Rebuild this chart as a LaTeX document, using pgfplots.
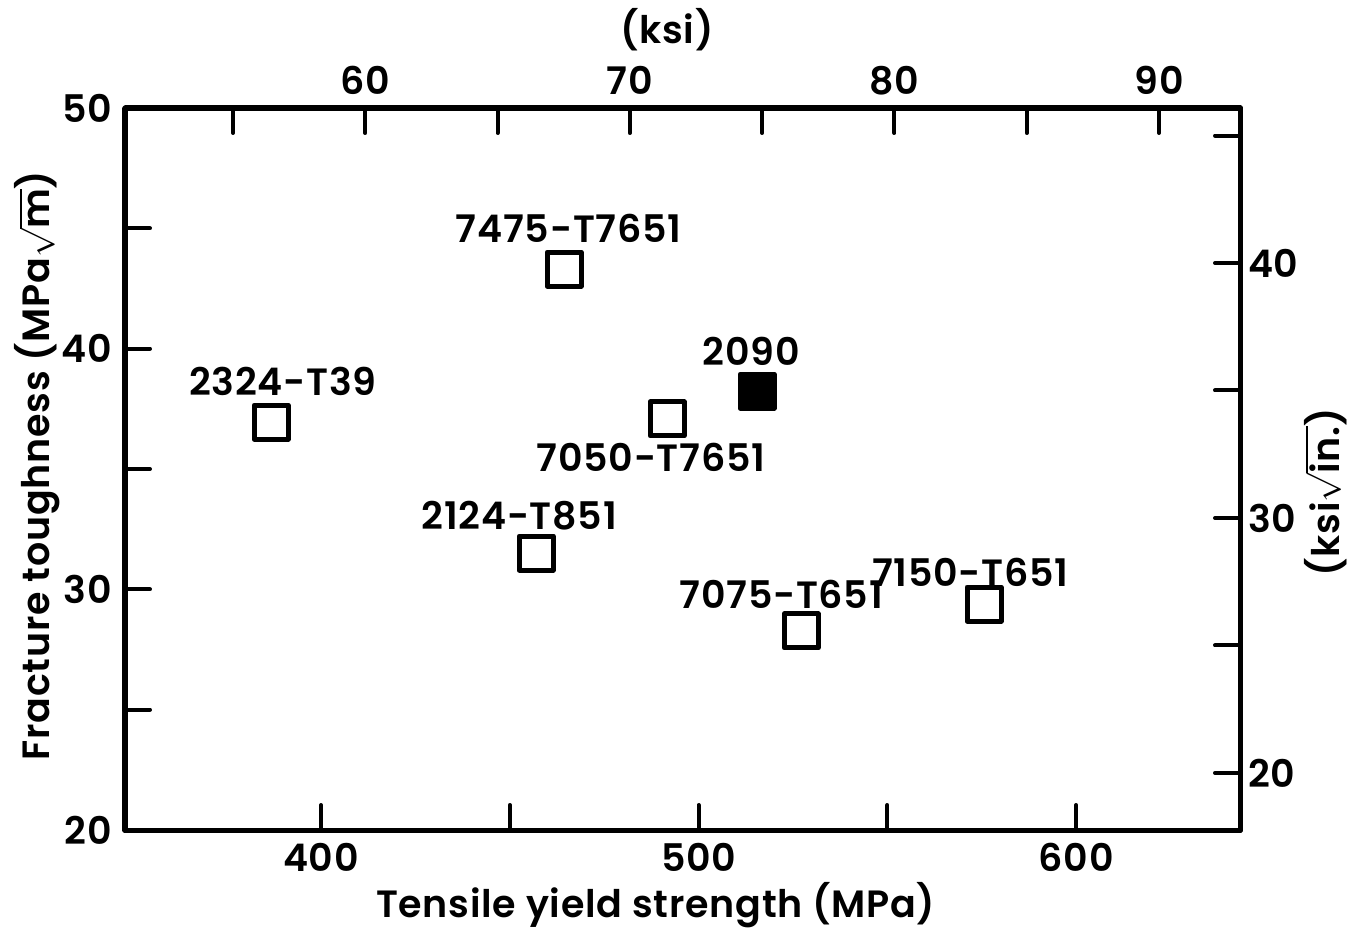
\documentclass[border=0pt]{standalone}
\usepackage{fontspec}
\setmainfont{Poppins SemiBold}[LetterSpace=2]
\usepackage{pgfplots}
\pgfplotsset{compat=1.18}
\begin{document}
\fontsize{19}{21}\selectfont
\begin{tikzpicture}
\useasboundingbox (-62.5pt,-49pt) rectangle (614pt,415pt);
\pgfplotsset{
  common/.style={
    at={(0,0)}, anchor=south west, scale only axis,
    width=557.5pt, height=361pt,
    axis line style={line width=2.5pt, line cap=round, line join=round},
    tick align=inside, major tick length=12.5pt,
    tick style={line width=2pt, black, line cap=round},
    font=\fontsize{19}{21}\selectfont,
    /pgf/number format/assume math mode=true,
    clip=false,
  }
}
\begin{axis}[common,
  xmin=348.1, xmax=643.4, ymin=20, ymax=50,
  xtick={400,450,...,600}, xticklabels={400,,500,,600},
  ytick={20,25,...,50}, yticklabels={20,,30,,40,,50},
  xtick pos=left, ytick pos=left,
  xlabel={Tensile yield strength (MPa)},
  ylabel={Fracture toughness (MPa$\sqrt{\mbox{m}}$)},
  xlabel style={at={(axis description cs:0.476,-0.1039)}, anchor=center},
  ylabel style={at={(axis description cs:-0.0790,0.505)}, anchor=center, inner sep=0pt},
]
\addplot[only marks, mark=square, mark size=8.5pt, line width=2.5pt,
  mark options={line join=round}] coordinates {
  (386.8,36.95) (464.4,43.31) (491.7,37.08) (457.0,31.51) (527.2,28.27) (575.6,29.39)
};
\addplot[only marks, mark=square*, mark size=8.5pt, line width=2.5pt,
  mark options={fill=black, line join=round}] coordinates {(515.5,38.24)};
\node at (axis cs:389.9,38.62) {2324-T39};
\node at (axis cs:465.6,45.0) {7475-T7651};
\node at (axis cs:514.0,39.9) {2090};
\node at (axis cs:487.4,35.5) {7050-T7651};
\node at (axis cs:452.5,33.05) {2124-T851};
\node at (axis cs:521.9,29.81) {7075-T651};
\node at (axis cs:572.0,30.7) {7150-T651};
\end{axis}
\begin{axis}[common,
  xmin=50.92, xmax=93.06, ymin=17.76, ymax=46.08,
  xtick={55,60,...,90}, xticklabels={,60,,70,,80,,90},
  ytick={20,25,...,45}, yticklabels={20,,30,,40,},
  xtick pos=right, ytick pos=right,
  yticklabel style={xshift=-2.5pt},
  xlabel={(ksi)},
  ylabel={(ksi$\sqrt{\mbox{in.}}$)},
  xlabel style={at={(axis description cs:0.486,1.108)}, anchor=center},
  ylabel style={at={(axis description cs:1.077,0.468)}, anchor=center, inner sep=0pt},
]
\end{axis}
\end{tikzpicture}
\end{document}
